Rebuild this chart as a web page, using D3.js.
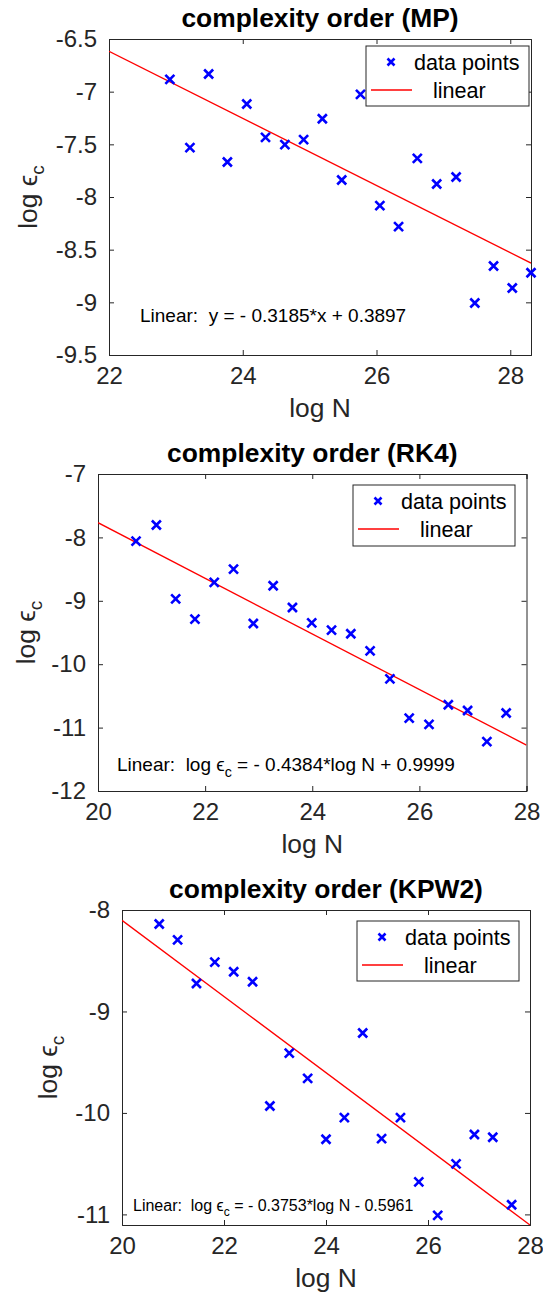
<!DOCTYPE html>
<html>
<head>
<meta charset="utf-8">
<script src="https://cdn.jsdelivr.net/npm/d3@7"></script>
<style>
  body { margin: 0; background: #fff; }
  svg { display: block; font-family: "Liberation Sans", Arial, Helvetica, sans-serif; }
  .fit { white-space: pre; }
</style>
</head>
<body>
<svg id="chart" width="543" height="1298"></svg>
<script>
// data
const titles = ['complexity order (MP)', 'complexity order (RK4)', 'complexity order (KPW2)']

const xMP = [22.91, 23.21, 23.49, 23.77, 24.06, 24.34, 24.63, 24.91, 25.19, 25.48,
  25.76, 26.05, 26.33, 26.61, 26.90, 27.19, 27.47, 27.75, 28.03, 28.31]
const yMP = [-6.883, -7.532, -6.832, -7.668, -7.117, -7.434, -7.503, -7.456, -7.257, -7.839,
  -7.025, -8.082, -8.282, -7.633, -7.877, -7.810, -9.006, -8.655, -8.864, -8.719]

const xRK4 = [20.71, 21.09, 21.45, 21.81, 22.17, 22.53, 22.90, 23.27, 23.63, 23.99,
  24.36, 24.72, 25.08, 25.45, 25.81, 26.18, 26.54, 26.90, 27.26, 27.62]
const yRK4 = [-8.058, -7.805, -8.969, -9.29, -8.71, -8.5, -9.358, -8.763, -9.105, -9.348,
  -9.463, -9.52, -9.79, -10.232, -10.85, -10.95, -10.64, -10.73, -11.22, -10.77]

const xKPW2 = [20.73, 21.09, 21.46, 21.82, 22.19, 22.56, 22.90, 23.28, 23.64, 24.00,
  24.36, 24.72, 25.09, 25.46, 25.82, 26.19, 26.55, 26.91, 27.27, 27.64]
const yKPW2 = [-8.138, -8.295, -8.724, -8.514, -8.609, -8.707, -9.932, -9.411, -9.66, -10.259,
  -10.047, -9.212, -10.253, -10.047, -10.679, -11.009, -10.502, -10.213, -10.24, -10.905]

const slopes = [-0.3185, -0.4384, -0.3753]
const intercepts = [0.3897, 0.9999, -0.5961]

const xDomains = [[22, 28.31], [20, 28], [20, 28]]
const yDomains = [[-9.5, -6.5], [-12, -7], [-11.1045, -8]]
const xTickVals = [[22, 24, 26, 28], [20, 22, 24, 26, 28], [20, 22, 24, 26, 28]]
const yTickVals = [[-6.5, -7, -7.5, -8, -8.5, -9, -9.5], [-7, -8, -9, -10, -11, -12], [-8, -9, -10, -11]]

const fitLabels = [
  ['Linear:  y = - 0.3185*x + 0.3897'],
  ['Linear:  log ', 'c', ' = - 0.4384*log N + 0.9999'],
  ['Linear:  log ', 'c', ' = - 0.3753*log N - 0.5961']
]

// layout (pixels)
const panels = [
  { left: 109, right: 531, top: 39, bottom: 355, ylabX: 37, fitX: 140, fitY: 322, fitSize: 19,
    leg: { x: 366, y: 46, w: 163, h: 60 } },
  { left: 98, right: 526.5, top: 474, bottom: 791, ylabX: 35, fitX: 117, fitY: 771, fitSize: 19,
    leg: { x: 353, y: 485, w: 162, h: 61 } },
  { left: 122, right: 530, top: 910, bottom: 1225, ylabX: 57, fitX: 133, fitY: 1211, fitSize: 16,
    leg: { x: 357, y: 921, w: 162, h: 60 } }
]

const xs = [xMP, xRK4, xKPW2]
const ys = [yMP, yRK4, yKPW2]

const axisColor = '#262626'
const svg = d3.select('#chart')
svg.append('rect').attr('width', 543).attr('height', 1298).attr('fill', '#fff')

const cross = 'M-4.5,-4.5L4.5,4.5M-4.5,4.5L4.5,-4.5'

panels.forEach((p, i) => {
  const x = d3.scaleLinear().domain(xDomains[i]).range([p.left, p.right])
  const y = d3.scaleLinear().domain(yDomains[i]).range([p.bottom, p.top])
  const g = svg.append('g')
  const w = p.right - p.left, h = p.bottom - p.top

  // axes with inward ticks on all four sides
  const bottomAxis = d3.axisBottom(x).tickValues(xTickVals[i]).tickSize(-5).tickPadding(12).tickFormat(d => String(d))
  const topAxis = d3.axisTop(x).tickValues(xTickVals[i]).tickSize(-5).tickFormat('')
  const leftAxis = d3.axisLeft(y).tickValues(yTickVals[i]).tickSize(-5).tickPadding(12).tickFormat(d => String(d))
  const rightAxis = d3.axisRight(y).tickValues(yTickVals[i]).tickSize(-5).tickFormat('')

  g.append('g').attr('transform', `translate(0,${p.bottom})`).call(bottomAxis)
  g.append('g').attr('transform', `translate(0,${p.top})`).call(topAxis)
  g.append('g').attr('transform', `translate(${p.left},0)`).call(leftAxis)
  g.append('g').attr('transform', `translate(${p.right},0)`).call(rightAxis)

  g.selectAll('.domain').attr('stroke', axisColor).attr('stroke-width', 1)
  g.selectAll('.tick line').attr('stroke', axisColor)
  g.selectAll('.tick text').attr('fill', axisColor).style('font-size', '24px')
    .style('font-family', '"Liberation Sans", Arial, sans-serif')

  // fit line
  const clipId = 'clip' + i
  svg.append('clipPath').attr('id', clipId).append('rect')
    .attr('x', p.left).attr('y', p.top).attr('width', w).attr('height', h)
  const fx = xDomains[i]
  g.append('path')
    .attr('clip-path', `url(#${clipId})`)
    .attr('d', d3.line()(fx.map(v => [x(v), y(slopes[i] * v + intercepts[i])])))
    .attr('stroke', '#ff0000').attr('stroke-width', 1.3).attr('fill', 'none')

  // data points
  g.selectAll('.pt').data(xs[i].map((v, k) => [v, ys[i][k]])).enter()
    .append('path')
    .attr('class', 'pt')
    .attr('transform', d => `translate(${x(d[0])},${y(d[1])})`)
    .attr('d', cross)
    .attr('stroke', '#0000ff').attr('stroke-width', 2.6).attr('fill', 'none')

  // title
  g.append('text')
    .attr('x', (p.left + p.right) / 2).attr('y', p.top - 12)
    .attr('text-anchor', 'middle')
    .style('font-size', '26.4px').style('font-weight', 'bold')
    .text(titles[i])

  // axis labels
  g.append('text')
    .attr('x', (p.left + p.right) / 2).attr('y', p.bottom + 62)
    .attr('text-anchor', 'middle').attr('fill', axisColor)
    .style('font-size', '26.4px')
    .text('log N')

  const yl = g.append('text')
    .attr('transform', `translate(${p.ylabX},${(p.top + p.bottom) / 2}) rotate(-90)`)
    .attr('text-anchor', 'middle').attr('fill', axisColor)
    .style('font-size', '26.4px')
  yl.append('tspan').text('log ')
  yl.append('tspan').text('\u03f5')
  yl.append('tspan').attr('dy', 7).style('font-size', '19px').text('c')

  // fit annotation
  const ft = g.append('text')
    .attr('class', 'fit')
    .attr('x', p.fitX).attr('y', p.fitY)
    .style('font-size', p.fitSize + 'px')
  const parts = fitLabels[i]
  if (parts.length === 1) {
    ft.text(parts[0])
  } else {
    ft.append('tspan').text(parts[0])
    ft.append('tspan').text('\u03f5')
    ft.append('tspan').attr('dy', p.fitSize * 0.3).style('font-size', (p.fitSize * 0.75) + 'px').text(parts[1])
    ft.append('tspan').attr('dy', -p.fitSize * 0.3).text(parts[2])
  }

  // legend
  const L = p.leg
  const lg = g.append('g').attr('transform', `translate(${L.x},${L.y})`)
  lg.append('rect').attr('width', L.w).attr('height', L.h)
    .attr('fill', '#fff').attr('stroke', axisColor).attr('stroke-width', 1)
  lg.append('path').attr('transform', 'translate(25,16)').attr('d', 'M-3.5,-3.5L3.5,3.5M-3.5,3.5L3.5,-3.5')
    .attr('stroke', '#0000ff').attr('stroke-width', 2.6).attr('fill', 'none')
  lg.append('text').attr('x', 48).attr('y', 24).style('font-size', '21.6px').text('data points')
  lg.append('line').attr('x1', 5).attr('x2', 46).attr('y1', 44).attr('y2', 44)
    .attr('stroke', '#ff0000').attr('stroke-width', 1.3)
  lg.append('text').attr('x', 67).attr('y', 52).style('font-size', '21.6px').text('linear')
})
</script>
</body>
</html>
